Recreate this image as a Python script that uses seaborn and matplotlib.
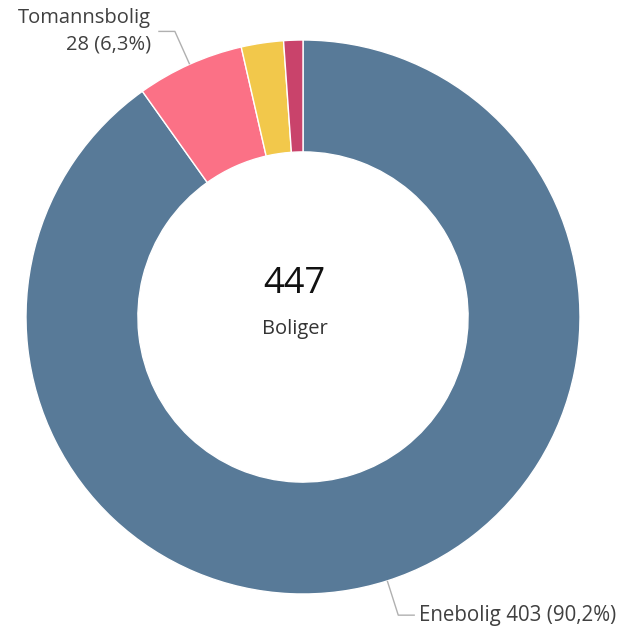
import numpy as np
import matplotlib
matplotlib.use('Agg')
import matplotlib.pyplot as plt
import seaborn as sns

# Boligtyper (antall boliger)
categories = ['Enebolig', 'Tomannsbolig', 'Rekkehus', 'Annet']
values = [403, 28, 11, 5]
colors = ['#587a98', '#fb7186', '#f2c84b', '#c9436b']
labelled = ['Tomannsbolig', 'Enebolig']
center_value = '447'
center_label = 'Boliger'

sns.set_theme(style='white')
plt.rcParams['font.family'] = ['Open Sans', 'DejaVu Sans']

fig = plt.figure(figsize=(6.31, 6.28), dpi=100)
ax = fig.add_axes([26 / 631, 34 / 628, 554 / 631, 554 / 628])

wedges, _ = ax.pie(values, colors=colors, startangle=90, counterclock=False,
                   radius=1.0, wedgeprops=dict(width=0.404, edgecolor='white', linewidth=1))
ax.set_xlim(-1, 1)
ax.set_ylim(-1, 1)
ax.set_aspect('equal')
ax.axis('off')

total = sum(values)
for w, cat, v in zip(wedges, categories, values):
    if cat not in labelled:
        continue
    mid = np.deg2rad((w.theta1 + w.theta2) / 2)
    x0, y0 = np.cos(mid), np.sin(mid)
    x1, y1 = 1.13 * x0, 1.13 * y0
    side = 1 if x0 > 0 else -1
    x2 = x1 + side * 0.06
    ax.plot([x0, x1, x2], [y0, y1, y1], color='#b0b0b0', lw=1,
            clip_on=False, solid_capstyle='butt')
    pct = f'{v / total * 100:.1f}'.replace('.', ',')
    if side < 0:
        txt = f'{cat}\n{v} ({pct}%)'
        ax.text(x2 - 0.025, y1, txt, ha='right', va='center', fontsize=14.5,
                color='#404040', linespacing=1.45)
    else:
        txt = f'{cat} {v} ({pct}%)'
        ax.text(x2 + 0.015, y1, txt, ha='left', va='center', fontsize=14.8,
                color='#404040')

ax.text(-0.03, 0.12, center_value, ha='center', va='center', fontsize=26, color='#111111')
ax.text(-0.03, -0.045, center_label, ha='center', va='center', fontsize=14.5, color='#333333')

fig.savefig('out.png', dpi=100)
